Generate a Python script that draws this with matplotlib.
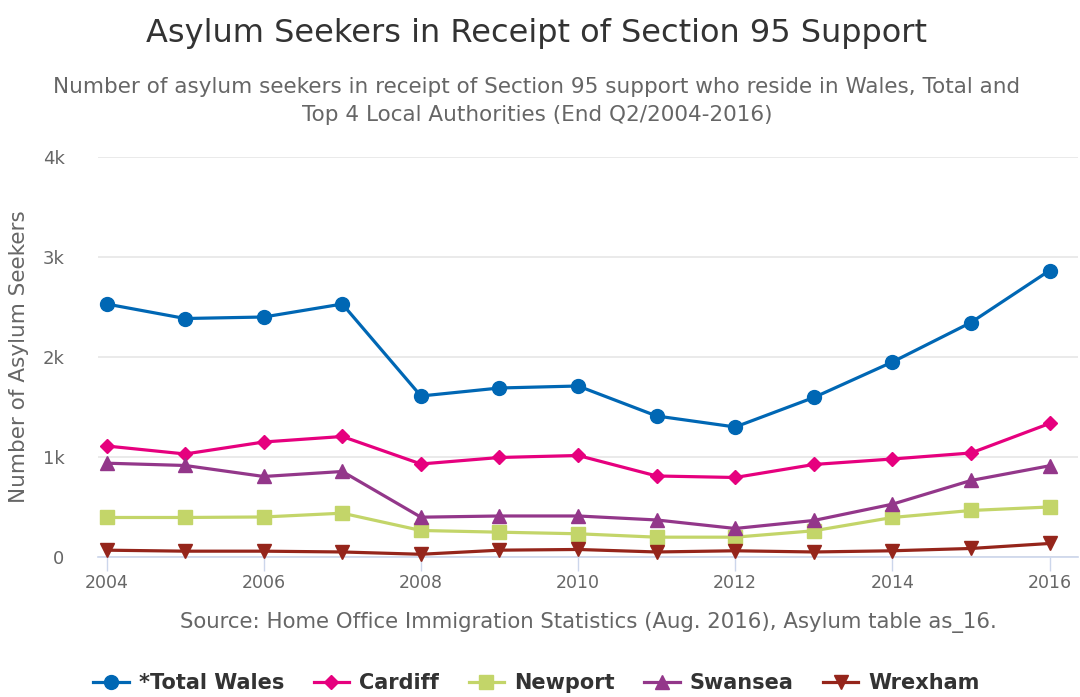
import matplotlib
matplotlib.use("Agg")
import matplotlib.pyplot as plt
from matplotlib.ticker import FuncFormatter

plt.rcParams['font.family'] = ['DejaVu Sans']

years = list(range(2004, 2017))
total_wales = [2530, 2385, 2400, 2530, 1610, 1690, 1710, 1410, 1300, 1595, 1950, 2345, 2865]
cardiff = [1110, 1030, 1150, 1205, 930, 995, 1015, 810, 795, 925, 980, 1040, 1335]
newport = [395, 395, 400, 438, 265, 248, 232, 198, 198, 262, 395, 465, 500]
swansea = [938, 915, 805, 855, 398, 410, 410, 370, 285, 365, 528, 765, 912]
wrexham = [68, 58, 58, 50, 27, 68, 75, 50, 62, 50, 62, 85, 135]

names = ['*Total Wales', 'Cardiff', 'Newport', 'Swansea', 'Wrexham']
colors = ['#0067b4', '#e6007e', '#c3d569', '#93378a', '#95251b']
markers = ['o', 'D', 's', '^', 'v']
msizes = [10, 7.5, 10, 10, 10]

fig = plt.figure(figsize=(10.8, 6.97), dpi=100)
ax = fig.add_axes([0.0907, 0.2009, 0.9073, 0.5738])

series = [total_wales, cardiff, newport, swansea, wrexham]
handles = []
for vals, name, c, m, ms in zip(series, names, colors, markers, msizes):
    h, = ax.plot(years, vals, color=c, marker=m, markersize=ms, lw=2.3,
                 label=name, clip_on=False, zorder=3)
    handles.append(h)

ax.set_xlim(2003.89, 2016.36)
ax.set_ylim(0, 4000)
ax.set_yticks([0, 1000, 2000, 3000, 4000])
ax.yaxis.set_major_formatter(FuncFormatter(lambda v, p: '0' if v == 0 else f'{int(v / 1000)}k'))
ax.set_xticks(range(2004, 2017, 2))

ax.grid(axis='y', color='#e6e6e6', lw=1.2)
ax.set_axisbelow(True)
for s in ['top', 'right', 'left']:
    ax.spines[s].set_visible(False)
ax.spines['bottom'].set_color('#ccd6eb')
ax.spines['bottom'].set_linewidth(1.2)
ax.tick_params(axis='y', length=0, labelsize=13, labelcolor='#666666', pad=24)
ax.tick_params(axis='x', length=10, width=1, color='#ccd6eb', labelsize=12.5,
               labelcolor='#666666', pad=2)

ax.set_ylabel('Number of Asylum Seekers', fontsize=15.5, color='#666666', labelpad=10)

fig.text(0.497, 0.952, 'Asylum Seekers in Receipt of Section 95 Support',
         ha='center', va='center', fontsize=23, color='#333333')
fig.text(0.497, 0.855, 'Number of asylum seekers in receipt of Section 95 support who reside in Wales, Total and\n'
         'Top 4 Local Authorities (End Q2/2004-2016)',
         ha='center', va='center', fontsize=15.5, color='#666666', linespacing=1.45)
fig.text(0.545, 0.107, 'Source: Home Office Immigration Statistics (Aug. 2016), Asylum table as_16.',
         ha='center', va='center', fontsize=15.3, color='#666666')

leg = fig.legend(handles=handles, loc='center', bbox_to_anchor=(0.497, 0.02), ncol=5,
                 frameon=False, handlelength=1.7, columnspacing=1.4, handletextpad=0.5,
                 prop={'weight': 'bold', 'size': 15})
for t in leg.get_texts():
    t.set_color('#333333')

fig.savefig('out.png', dpi=100)
